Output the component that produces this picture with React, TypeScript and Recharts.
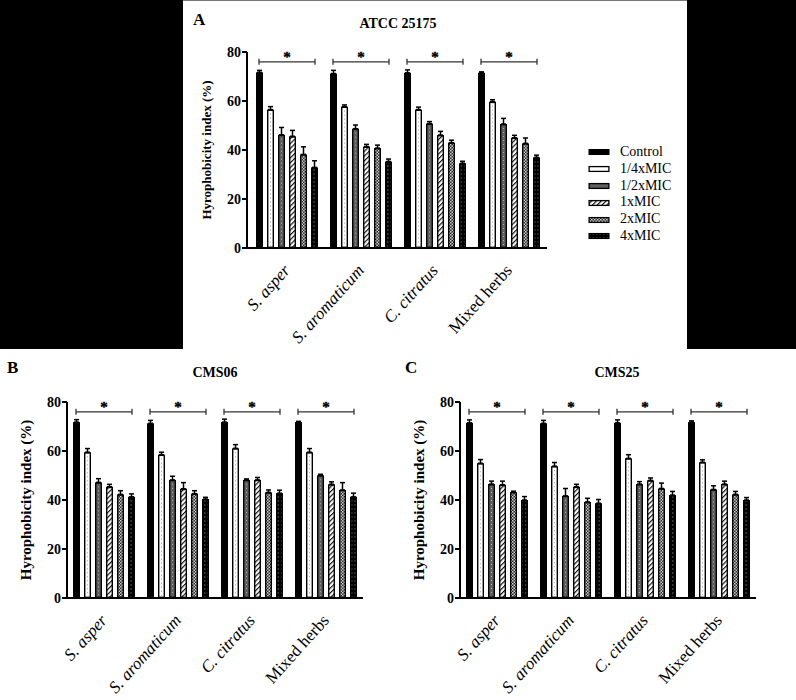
import React from 'react';
import { BarChart, Bar, XAxis, YAxis, ErrorBar, ReferenceLine, Legend } from 'recharts';

const categories = ['S. asper', 'S. aromaticum', 'C. citratus', 'Mixed herbs'];
const seriesNames = ['Control', '1/4xMIC', '1/2xMIC', '1xMIC', '2xMIC', '4xMIC'];
const seriesKeys = ['control', 'quarter', 'half', 'one', 'two', 'four'];
const yTicks = [0, 20, 40, 60, 80];
const bracketLevel = 76;
const starLevel = 80;

// Panel A: ATCC 25175 (rows = series, columns = categories)
const atccMeans = [
  [71.7, 71.2, 71.5, 71.5],
  [56.5, 57.7, 56.5, 59.7],
  [46.2, 48.7, 50.8, 50.6],
  [45.6, 41.4, 46.1, 45.0],
  [38.2, 40.8, 43.0, 42.7],
  [32.9, 35.3, 34.6, 37.0],
];
const atccErrors = [
  [0.8, 1.3, 1.2, 0.4],
  [1.2, 0.7, 1.0, 0.8],
  [3.0, 1.5, 0.8, 2.3],
  [2.4, 0.9, 1.5, 1.0],
  [3.1, 1.2, 1.0, 2.2],
  [2.7, 1.0, 0.8, 0.9],
];

// Panel B: CMS06
const cms06Means = [
  [71.8, 71.3, 71.8, 71.8],
  [59.5, 58.5, 61.1, 59.5],
  [47.2, 48.2, 48.2, 50.1],
  [45.4, 44.6, 48.2, 46.4],
  [42.3, 42.6, 43.1, 44.1],
  [41.3, 40.4, 42.8, 41.3],
];
const cms06Errors = [
  [1.0, 1.2, 1.2, 0.3],
  [1.5, 1.0, 1.5, 1.5],
  [1.5, 1.5, 0.4, 0.4],
  [1.0, 2.5, 1.0, 1.0],
  [1.5, 1.2, 1.0, 3.0],
  [1.2, 0.7, 1.2, 1.5],
];

// Panel C: CMS25
const cms25Means = [
  [71.5, 71.3, 71.5, 71.8],
  [55.0, 53.8, 57.0, 55.4],
  [46.5, 41.7, 46.5, 44.3],
  [46.2, 45.4, 48.0, 46.5],
  [43.2, 39.2, 44.7, 42.3],
  [40.0, 38.7, 42.0, 40.0],
];
const cms25Errors = [
  [1.2, 1.2, 1.2, 0.5],
  [1.5, 1.5, 1.5, 1.0],
  [1.2, 3.0, 1.0, 1.5],
  [1.5, 1.0, 1.0, 1.2],
  [0.4, 1.5, 2.2, 1.2],
  [1.4, 1.5, 1.5, 1.0],
];

const FONT = '"Liberation Serif", "Times New Roman", serif';

const fillFor = (kind: string) =>
  kind === 'control'
    ? '#000'
    : kind === 'quarter'
    ? '#fff'
    : kind === 'half'
    ? '#5e5e5e'
    : kind === 'one'
    ? 'url(#pHatch)'
    : kind === 'two'
    ? 'url(#pCheck)'
    : 'url(#pDots)';

const makeShape = (kind: string) => (p: any) => {
  const { x, y, width, height } = p;
  if (!height || height <= 0) return <g />;
  if (kind === 'control') return <rect x={x} y={y} width={width} height={height} fill="#000" />;
  const sw = 1.4;
  const cx = x + width / 2;
  return (
    <g>
      <rect
        x={x + sw / 2}
        y={y + sw / 2}
        width={width - sw}
        height={height - sw}
        fill={fillFor(kind)}
        stroke="#000"
        strokeWidth={sw}
      />
      {(kind === 'quarter' || kind === 'half') && (
        <line
          x1={cx}
          x2={cx}
          y1={y + 4}
          y2={y + height - 2}
          stroke={kind === 'quarter' ? '#9a9a9a' : '#b8b8b8'}
          strokeWidth={0.9}
          strokeDasharray="1 3"
        />
      )}
    </g>
  );
};

const Bracket = (p: any) => {
  const { x1, y1, y2 } = p;
  if (x1 == null || y1 == null) return <g />;
  const half = 28;
  return (
    <g>
      <line x1={x1 - half} x2={x1 + half} y1={y1} y2={y1} stroke="#333" strokeWidth={1.3} />
      <line x1={x1 - half} x2={x1 - half} y1={y1 - 3} y2={y1 + 3} stroke="#333" strokeWidth={1.3} />
      <line x1={x1 + half} x2={x1 + half} y1={y1 - 3} y2={y1 + 3} stroke="#333" strokeWidth={1.3} />
      <text
        x={x1}
        y={y2 + 10}
        textAnchor="middle"
        fontSize={15}
        fontWeight="bold"
        fontFamily={FONT}
        fill="#000"
        stroke="#000"
        strokeWidth={0.4}
        style={{ fill: '#000' }}
      >
        *
      </text>
    </g>
  );
};

const XTick = (p: any) => {
  const { x, y, payload } = p;
  const italic = payload.value !== 'Mixed herbs';
  const ax = x + 4;
  const ay = y + 15;
  return (
    <text
      x={ax}
      y={ay}
      textAnchor="end"
      transform={`rotate(-48 ${ax} ${ay})`}
      fontSize={17}
      fontStyle={italic ? 'italic' : 'normal'}
      fontFamily={FONT}
      fill="#000"
    >
      {payload.value}
    </text>
  );
};

const YLabel = (p: any) => {
  const vb = p.viewBox || { x: 0, y: 0, width: 60, height: 196 };
  const cx = vb.x + vb.width - 41;
  const cy = vb.y + vb.height / 2;
  return (
    <text
      x={cx}
      y={cy}
      transform={`rotate(-90 ${cx} ${cy})`}
      textAnchor="middle"
      dominantBaseline="central"
      fontSize={p.size}
      fontWeight="bold"
      fontFamily={FONT}
      fill="#000"
    >
      Hyrophobicity index (%)
    </text>
  );
};

const Swatch = ({ kind }: { kind: string }) => (
  <svg width={22} height={8} style={{ display: 'block' }}>
    {kind === 'control' ? (
      <rect x={0.5} y={1} width={21} height={6} fill="#000" />
    ) : (
      <rect x={1.1} y={1.6} width={19.8} height={4.8} fill={fillFor(kind)} stroke="#000" strokeWidth={1.3} />
    )}
  </svg>
);

const LegendContent = () => (
  <div style={{ fontFamily: FONT, fontSize: 14, color: '#000' }}>
    {seriesNames.map((n, i) => (
      <div key={n} style={{ display: 'flex', alignItems: 'center', height: 16.8 }}>
        <Swatch kind={seriesKeys[i]} />
        <span style={{ marginLeft: 10, lineHeight: '16.8px', whiteSpace: 'nowrap', fontFamily: FONT }}>{n}</span>
      </div>
    ))}
  </div>
);

const buildData = (means: number[][], errors: number[][]) =>
  categories.map((c, i) => {
    const row: any = { category: c };
    seriesKeys.forEach((k, j) => {
      row[k] = means[j][i];
      row[k + 'Err'] = [0, errors[j][i]];
    });
    return row;
  });

type PanelProps = {
  means: number[][];
  errors: number[][];
  left: number;
  top: number;
  width: number;
  height: number;
  yAxisWidth: number;
  marginTop: number;
  marginRight: number;
  xAxisHeight: number;
  xPadding: { left: number; right: number };
  labelSize: number;
  legend?: boolean;
};

function Panel(props: PanelProps) {
  const data = buildData(props.means, props.errors);
  return (
    <div style={{ position: 'absolute', left: props.left, top: props.top }}>
      <BarChart
        width={props.width}
        height={props.height}
        data={data}
        margin={{ top: props.marginTop, right: props.marginRight, left: 0, bottom: 0 }}
        barSize={7}
        barGap={4}
      >
        <XAxis
          dataKey="category"
          height={props.xAxisHeight}
          axisLine={{ stroke: '#000', strokeWidth: 2 }}
          tickLine={false}
          tickSize={6}
          tickMargin={2}
          tick={<XTick />}
          interval={0}
          padding={props.xPadding}
        />
        <YAxis
          width={props.yAxisWidth}
          domain={[0, 80]}
          ticks={yTicks}
          interval={0}
          axisLine={{ stroke: '#000', strokeWidth: 2 }}
          tickLine={{ stroke: '#000', strokeWidth: 2 }}
          tickSize={5}
          tickMargin={1}
          tick={{ fontSize: 14, fontWeight: 'bold', fontFamily: FONT, fill: '#000' }}
          label={<YLabel size={props.labelSize} />}
        />
        {seriesKeys.map((k, j) => (
          <Bar
            key={k}
            dataKey={k}
            name={seriesNames[j]}
            fill={k === 'control' || k === 'four' ? '#000' : k === 'half' || k === 'two' ? '#555' : '#fff'}
            shape={makeShape(k)}
            isAnimationActive={false}
          >
            <ErrorBar dataKey={k + 'Err'} direction="y" width={2.5} stroke="#000" strokeWidth={1.5} />
          </Bar>
        ))}
        {categories.map((c) => (
          <ReferenceLine
            key={c}
            segment={[
              { x: c, y: bracketLevel },
              { x: c, y: starLevel },
            ]}
            shape={Bracket}
            ifOverflow="visible"
          />
        ))}
        {props.legend && (
          <Legend
            layout="vertical"
            align="center"
            verticalAlign="middle"
            content={<LegendContent />}
            wrapperStyle={{ left: 405, top: 144, width: 110 }}
          />
        )}
      </BarChart>
    </div>
  );
}

export default function App() {
  return (
    <div
      style={{
        position: 'absolute',
        left: 0,
        top: 0,
        width: 796,
        height: 700,
        background: '#fff',
        overflow: 'hidden',
      }}
    >
      <svg width={0} height={0} style={{ position: 'absolute' }}>
        <defs>
          <pattern id="pHatch" width="3.4" height="3.4" patternUnits="userSpaceOnUse" patternTransform="rotate(45)">
            <rect width="3.4" height="3.4" fill="#fff" />
            <line x1="0.6" y1="0" x2="0.6" y2="3.4" stroke="#000" strokeWidth="1.1" />
          </pattern>
          <pattern id="pCheck" width="3" height="3" patternUnits="userSpaceOnUse">
            <rect width="3" height="3" fill="#2a2a2a" />
            <rect x="0" y="0" width="1.5" height="1.5" fill="#cfcfcf" />
            <rect x="1.5" y="1.5" width="1.5" height="1.5" fill="#cfcfcf" />
          </pattern>
          <pattern id="pDots" width="3.5" height="4" patternUnits="userSpaceOnUse">
            <rect width="3.5" height="4" fill="#000" />
            <rect x="1.2" y="1.5" width="1" height="1" fill="#bbb" />
          </pattern>
        </defs>
      </svg>
      <div style={{ position: 'absolute', left: 0, top: 0, width: 183, height: 349, background: '#000' }} />
      <div style={{ position: 'absolute', left: 687, top: 0, width: 109, height: 349, background: '#000' }} />
      <div style={{ position: 'absolute', left: 183, top: 0, width: 504, height: 1, background: '#777' }} />

      <Panel
        means={atccMeans}
        errors={atccErrors}
        left={183}
        top={0}
        width={504}
        height={349}
        yAxisWidth={64}
        marginTop={52}
        marginRight={140}
        xAxisHeight={101}
        xPadding={{ left: 3, right: 1 }}
        labelSize={13}
        legend
      />
      <Panel
        means={cms06Means}
        errors={cms06Errors}
        left={0}
        top={355}
        width={398}
        height={345}
        yAxisWidth={67}
        marginTop={47}
        marginRight={35}
        xAxisHeight={102}
        xPadding={{ left: 0, right: 0 }}
        labelSize={15}
      />
      <Panel
        means={cms25Means}
        errors={cms25Errors}
        left={398}
        top={355}
        width={398}
        height={345}
        yAxisWidth={62}
        marginTop={47}
        marginRight={40}
        xAxisHeight={102}
        xPadding={{ left: 0, right: 0 }}
        labelSize={15}
      />

      <svg
        width={796}
        height={700}
        style={{ position: 'absolute', left: 0, top: 0, pointerEvents: 'none' }}
        fontFamily={FONT}
      >
        <text x={193} y={25} fontSize={17} fontWeight="bold" fill="#000">A</text>
        <text x={398} y={28} fontSize={14} fontWeight="bold" textAnchor="middle" fill="#000">ATCC 25175</text>
        <text x={7} y={373} fontSize={17} fontWeight="bold" fill="#000">B</text>
        <text x={215} y={377} fontSize={14} fontWeight="bold" textAnchor="middle" fill="#000">CMS06</text>
        <text x={405} y={373} fontSize={17} fontWeight="bold" fill="#000">C</text>
        <text x={617} y={377} fontSize={14} fontWeight="bold" textAnchor="middle" fill="#000">CMS25</text>
      </svg>
    </div>
  );
}
